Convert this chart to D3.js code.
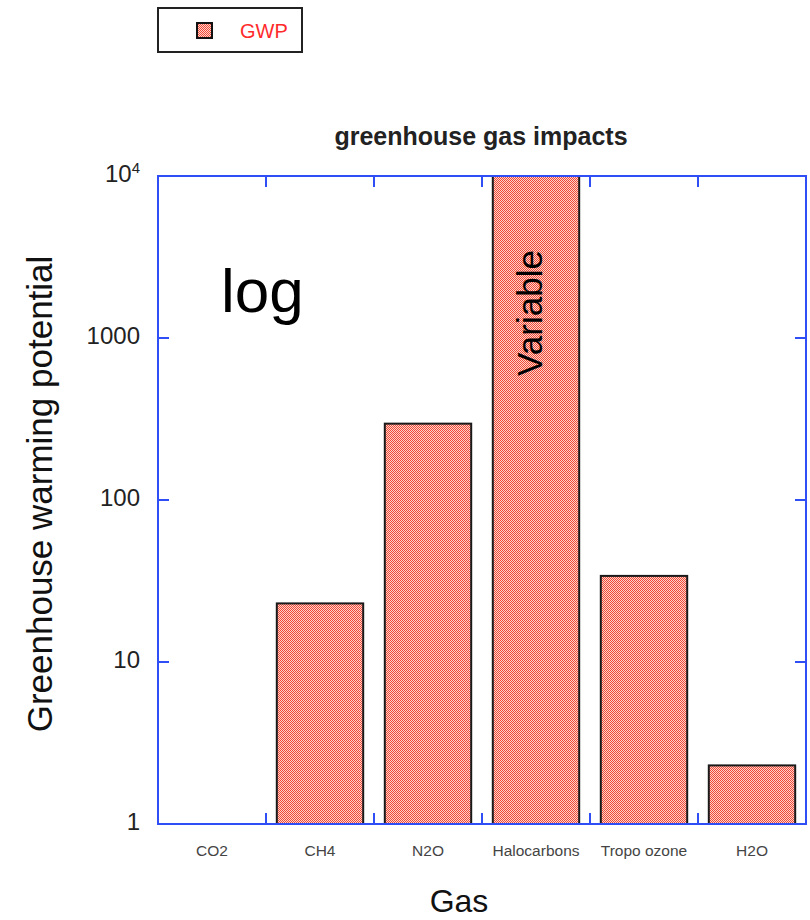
<!DOCTYPE html>
<html>
<head>
<meta charset="utf-8">
<script src="https://cdn.jsdelivr.net/npm/d3@7/dist/d3.min.js"></script>
<style>
  html, body { margin: 0; padding: 0; background: #fff; }
  svg { display: block; }
  text { font-family: "Liberation Sans", Arial, Helvetica, sans-serif; }
</style>
</head>
<body>
<script>
// Greenhouse warming potential by gas (log scale)
const categories = ["CO2", "CH4", "N2O", "Halocarbons", "Tropo ozone", "H2O"];
const gwp = [1, 23, 296, 10000, 34, 2.3];
const yTickValues = [1, 10, 100, 1000, 10000];
const yTickLabels = ["1", "10", "100", "1000", "10^4"];
const seriesName = "GWP";

const W = 810, H = 920;
const plotLeft = 158, plotRight = 806, plotTop = 176, plotBottom = 824;
const axisColor = "#2f4ef5";

const svg = d3.select("body").append("svg").attr("width", W).attr("height", H);

// checkered salmon fill for the bars
const defs = svg.append("defs");
const pat = defs.append("pattern").attr("id", "checker")
  .attr("patternUnits", "userSpaceOnUse").attr("width", 2).attr("height", 2);
pat.append("rect").attr("width", 2).attr("height", 2).attr("fill", "#ffd2ca");
pat.append("rect").attr("width", 1).attr("height", 1).attr("fill", "#f04a38");
pat.append("rect").attr("x", 1).attr("y", 1).attr("width", 1).attr("height", 1).attr("fill", "#f04a38");

const x = d3.scaleBand().domain(categories).range([plotLeft, plotRight])
  .paddingInner(0.2).paddingOuter(0.1);
const y = d3.scaleLog().domain([1, 10000]).range([plotBottom, plotTop]);

// bars
svg.append("g").selectAll("rect").data(categories).join("rect")
  .attr("x", d => x(d))
  .attr("y", (d, i) => y(gwp[i]))
  .attr("width", x.bandwidth())
  .attr("height", (d, i) => plotBottom - y(gwp[i]))
  .attr("fill", "url(#checker)")
  .attr("stroke", "#1a1a1a")
  .attr("stroke-width", 2)
  .attr("display", (d, i) => gwp[i] <= 1 ? "none" : null);

// frame
svg.append("rect").attr("x", plotLeft).attr("y", plotTop)
  .attr("width", plotRight - plotLeft).attr("height", plotBottom - plotTop)
  .attr("fill", "none").attr("stroke", axisColor).attr("stroke-width", 2);

// inward ticks on all four sides
const tickLen = 11;
const bounds = categories.slice(1).map(c => x(c) - x.step() * x.paddingInner() / 2);
const tg = svg.append("g").attr("stroke", axisColor).attr("stroke-width", 2);
bounds.forEach(b => {
  tg.append("line").attr("x1", b).attr("x2", b).attr("y1", plotBottom).attr("y2", plotBottom - tickLen);
  tg.append("line").attr("x1", b).attr("x2", b).attr("y1", plotTop).attr("y2", plotTop + tickLen);
});
yTickValues.slice(1, -1).forEach(v => {
  tg.append("line").attr("x1", plotLeft).attr("x2", plotLeft + tickLen).attr("y1", y(v)).attr("y2", y(v));
  tg.append("line").attr("x1", plotRight).attr("x2", plotRight - tickLen).attr("y1", y(v)).attr("y2", y(v));
});

// y tick labels
const yl = svg.append("g").attr("fill", "#222").attr("font-size", 24).attr("text-anchor", "end");
yTickValues.forEach((v, i) => {
  const lab = yTickLabels[i];
  const t = yl.append("text").attr("x", plotLeft - 18).attr("y", y(v) + 6);
  if (lab.includes("^")) {
    const [b, e] = lab.split("^");
    t.append("tspan").text(b);
    t.append("tspan").attr("font-size", 15).attr("dy", -9).text(e);
  } else {
    t.text(lab);
  }
});

// x category labels
svg.append("g").attr("fill", "#444").attr("font-size", 15.5).attr("text-anchor", "middle")
  .selectAll("text").data(categories).join("text")
  .attr("x", d => x(d) + x.bandwidth() / 2)
  .attr("y", 856)
  .text(d => d);

// title and axis titles
svg.append("text").attr("x", 481).attr("y", 145).attr("text-anchor", "middle")
  .attr("font-size", 25).attr("font-weight", "bold").attr("fill", "#222")
  .text("greenhouse gas impacts");
svg.append("text").attr("x", 459).attr("y", 912).attr("text-anchor", "middle")
  .attr("font-size", 32).attr("fill", "#111").text("Gas");
svg.append("text").attr("transform", "translate(52,494) rotate(-90)")
  .attr("text-anchor", "middle").attr("font-size", 35).attr("fill", "#111")
  .text("Greenhouse warming potential");

// annotations
svg.append("text").attr("x", 221).attr("y", 312).attr("font-size", 62).attr("fill", "#000").text("log");
const hx = x("Halocarbons") + x.bandwidth() / 2;
svg.append("text").attr("transform", `translate(${hx + 6},313) rotate(-90)`)
  .attr("text-anchor", "middle").attr("font-size", 35).attr("fill", "#000").text("Variable");

// legend
const lg = svg.append("g");
lg.append("rect").attr("x", 158).attr("y", 8).attr("width", 144).attr("height", 44)
  .attr("fill", "#fff").attr("stroke", "#222").attr("stroke-width", 2);
lg.append("rect").attr("x", 197).attr("y", 23).attr("width", 15).attr("height", 15)
  .attr("fill", "url(#checker)").attr("stroke", "#111").attr("stroke-width", 2);
lg.append("text").attr("x", 240).attr("y", 38).attr("font-size", 20).attr("fill", "#ff2a2a").text(seriesName);
</script>
</body>
</html>
